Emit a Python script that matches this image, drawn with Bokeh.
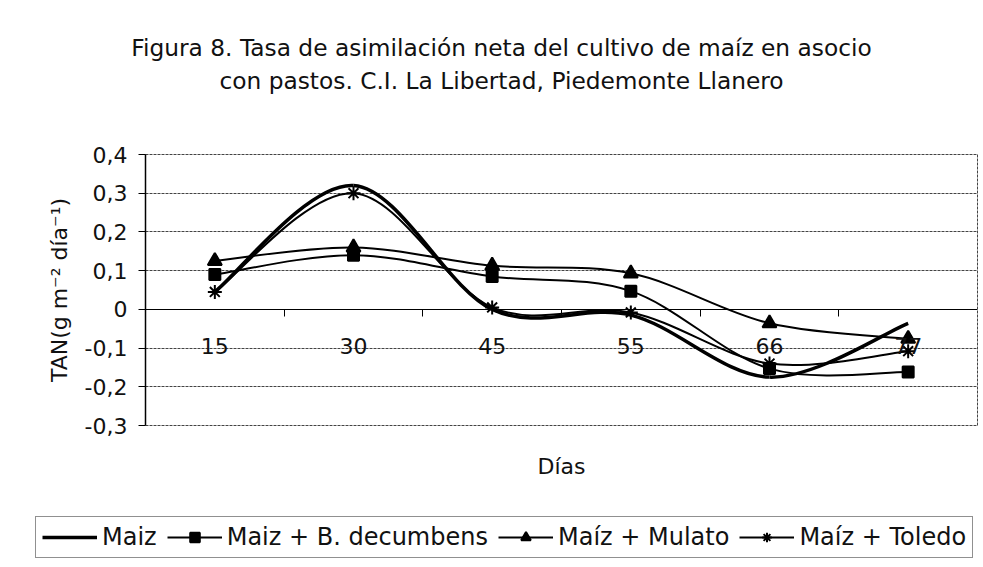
from bokeh.plotting import figure
from bokeh.models import Range1d, FixedTicker, Legend, LegendItem, LinearAxis
from bokeh.core.properties import value
from bokeh.embed import file_html
from bokeh.resources import INLINE

# ---- data ----
dias = ["15", "30", "45", "55", "66", "77"]
maiz = [0.045, 0.32, 0.0, -0.015, -0.175, -0.036]
maiz_decumbens = [0.09, 0.14, 0.085, 0.047, -0.153, -0.162]
maiz_mulato = [0.125, 0.16, 0.113, 0.093, -0.036, -0.076]
maiz_toledo = [0.045, 0.30, 0.005, -0.008, -0.14, -0.108]
series_names = ["Maiz", "Maiz + B. decumbens", "Maíz + Mulato", "Maíz + Toledo"]
y_ticks = [-0.3, -0.2, -0.1, 0.0, 0.1, 0.2, 0.3, 0.4]
y_tick_labels = ["-0,3", "-0,2", "-0,1", "0", "0,1", "0,2", "0,3", "0,4"]
title_lines = ["Figura 8. Tasa de asimilación neta del cultivo de maíz en asocio",
               "con pastos. C.I. La Libertad, Piedemonte Llanero"]
x_title = "Días"
y_title = "TAN(g m\u207b\u00b2 día\u207b\u00b9)"

FONT = "DejaVu Sans"
TXT = "#111111"
W = 982

n = len(dias)
xs = [i + 0.5 for i in range(n)]          # category centres
boundaries = [i for i in range(1, n)]     # category boundaries (tick marks)

# ---- title strip (pixel coordinates, y downwards) ----
TH = 134
pt = figure(width=W, height=TH, output_backend="svg", toolbar_location=None,
            x_range=Range1d(0, W), y_range=Range1d(TH, 0),
            x_axis_type=None, y_axis_type=None, title=None,
            min_border_left=0, min_border_right=0, min_border_top=0, min_border_bottom=0,
            background_fill_color="white", border_fill_color="white")
pt.outline_line_color = None
pt.xgrid.visible = False
pt.ygrid.visible = False
pt.text(x=[501, 501], y=[47, 80], text=title_lines, text_align="center",
        text_baseline="middle", text_font=value(FONT), text_font_size="23.3px",
        text_color=TXT)

# ---- main chart ----
p = figure(width=W, height=366, output_backend="svg", toolbar_location=None,
           x_range=Range1d(0, n), y_range=Range1d(-0.3, 0.4), title=None,
           min_border_left=145, min_border_right=5,
           min_border_top=20, min_border_bottom=75,
           background_fill_color="white", border_fill_color="white")
xa = p.xaxis[0]
ya = p.yaxis[0]

p.outline_line_color = "#444444"
p.outline_line_dash = "3 1"
p.outline_line_width = 1
p.xgrid.visible = False
p.ygrid.ticker = FixedTicker(ticks=y_ticks)
p.ygrid.grid_line_color = "#444444"
p.ygrid.grid_line_dash = "3 1"
p.ygrid.grid_line_width = 1

ya.ticker = FixedTicker(ticks=y_ticks)
ya.major_label_overrides = {v: s for v, s in zip(y_ticks, y_tick_labels)}
ya.major_label_text_font = FONT
ya.major_label_text_font_size = "22px"
ya.major_label_text_color = TXT
ya.major_tick_out = 7
ya.major_tick_in = 0
ya.minor_tick_out = 0
ya.minor_tick_in = 0
ya.major_label_standoff = 11
ya.axis_line_color = "black"
ya.axis_line_width = 1.5
ya.major_tick_line_color = "black"
ya.axis_label = y_title
ya.axis_label_text_font = FONT
ya.axis_label_text_font_style = "normal"
ya.axis_label_text_font_size = "22px"
ya.axis_label_text_color = TXT
ya.axis_label_standoff = 10

# x axis crossing at zero
xa.fixed_location = 0
xa.ticker = FixedTicker(ticks=xs, minor_ticks=boundaries)
xa.major_label_overrides = {x: d for x, d in zip(xs, dias)}
xa.major_label_text_font = FONT
xa.major_label_text_font_size = "22px"
xa.major_label_text_color = TXT
xa.major_tick_out = 0
xa.major_tick_in = 0
xa.minor_tick_out = 7
xa.minor_tick_in = 0
xa.minor_tick_line_color = "black"
xa.major_label_standoff = 22
xa.axis_line_color = "black"
xa.axis_line_width = 1

# axis title "Días" as a bare axis below the frame
lab_ax = LinearAxis(ticker=FixedTicker(ticks=[]), axis_line_color=None,
                    major_tick_line_color=None, minor_tick_line_color=None,
                    major_tick_out=0, major_tick_in=0, minor_tick_out=0, minor_tick_in=0,
                    major_label_standoff=0, axis_label=x_title,
                    axis_label_text_font=FONT, axis_label_text_font_style="normal",
                    axis_label_text_font_size="22px", axis_label_text_color=TXT,
                    axis_label_standoff=28)
p.add_layout(lab_ax, "below")


def smooth(xv, yv):
    """Bezier control points (Excel-style smoothed line) through the data points."""
    m = len(xv)
    d = dict(x0=[], y0=[], x1=[], y1=[], cx0=[], cy0=[], cx1=[], cy1=[])
    for i in range(m - 1):
        xa_, ya_ = (xv[i - 1], yv[i - 1]) if i > 0 else (xv[i], yv[i])
        xb_, yb_ = (xv[i + 2], yv[i + 2]) if i + 2 < m else (xv[i + 1], yv[i + 1])
        d["x0"].append(xv[i]); d["y0"].append(yv[i])
        d["x1"].append(xv[i + 1]); d["y1"].append(yv[i + 1])
        d["cx0"].append(xv[i] + (xv[i + 1] - xa_) / 6)
        d["cy0"].append(yv[i] + (yv[i + 1] - ya_) / 6)
        d["cx1"].append(xv[i + 1] - (xb_ - xv[i]) / 6)
        d["cy1"].append(yv[i + 1] - (yb_ - yv[i]) / 6)
    return d


series = [maiz, maiz_decumbens, maiz_mulato, maiz_toledo]
widths = [3.5, 2, 2, 2]
markers = [None, "square", "triangle", "asterisk"]
msizes = [0, 11, 14, 14]

for ys, lw in zip(series, widths):
    p.bezier(source=smooth(xs, ys), x0="x0", y0="y0", x1="x1", y1="y1",
             cx0="cx0", cy0="cy0", cx1="cx1", cy1="cy1",
             line_color="black", line_width=lw)
for ys, mk, ms in zip(series, markers, msizes):
    if mk is not None:
        p.scatter(x=xs, y=ys, marker=mk, size=ms, fill_color="black",
                  line_color="black", line_width=2)

# ---- legend strip ----
pl = figure(width=W, height=66, output_backend="svg", toolbar_location=None,
            x_range=Range1d(0, 1), y_range=Range1d(0, 1),
            x_axis_type=None, y_axis_type=None, title=None,
            min_border_left=0, min_border_right=0, min_border_top=0, min_border_bottom=0,
            background_fill_color="white", border_fill_color="white")
pl.outline_line_color = None
pl.xgrid.visible = False
pl.ygrid.visible = False

items = []
for name, lw, mk, ms in zip(series_names, widths, markers, msizes):
    rends = [pl.line(x=[-5, -4], y=[-5, -4], line_color="black", line_width=lw)]
    if mk is not None:
        rends.append(pl.scatter(x=[-5], y=[-5], marker=mk, size=ms - 1, fill_color="black",
                                line_color="black", line_width=2))
    items.append(LegendItem(label=name, renderers=rends))

legend = Legend(items=items, orientation="horizontal", location=(35, 8),
                label_text_font=FONT, label_text_font_size="24px",
                label_text_color=TXT,
                glyph_width=55, glyph_height=24, label_height=28,
                label_standoff=5, spacing=10, padding=6, margin=0,
                border_line_color="#222222", border_line_width=1,
                background_fill_color="white", background_fill_alpha=1)
pl.add_layout(legend)

open("out.html", "w").write(file_html([pt, p, pl], INLINE))
